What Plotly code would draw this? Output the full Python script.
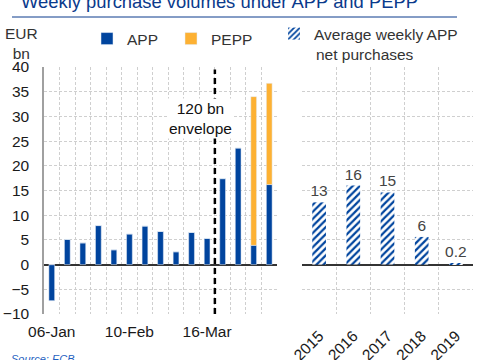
import numpy as np
import plotly.graph_objects as go

# ---------------- data ----------------
weeks = ["06-Jan", "13-Jan", "20-Jan", "27-Jan", "03-Feb", "10-Feb", "17-Feb", "24-Feb",
         "02-Mar", "09-Mar", "16-Mar", "23-Mar", "30-Mar", "06-Apr", "13-Apr"]
app_weekly = [-7.3, 5.1, 4.4, 7.9, 3.0, 6.2, 7.8, 6.7, 2.6, 6.5, 5.3, 17.4, 23.6, 3.9, 16.2]
pepp_weekly = [0, 0, 0, 0, 0, 0, 0, 0, 0, 0, 0, 0, 0, 30.1, 20.5]
shown_week_labels = ["06-Jan", "10-Feb", "16-Mar"]
envelope_after = "16-Mar"

years = ["2015", "2016", "2017", "2018", "2019"]
avg_weekly_app = [12.6, 16.0, 14.6, 5.6, 0.2]
avg_labels = ["13", "16", "15", "6", "0.2"]

# ---------------- style ----------------
W, H = 482, 360
BLUE = "#00449E"
YELLOW = "#FDB133"
TITLE_BLUE = "#0A3A8C"
TXT = "#333333"
GRID = "#CFCFCF"
FONT = "Arial, Liberation Sans, sans-serif"

def px_x(p):
    return p / W

def px_y(p):
    return 1 - p / H

xdomL = [px_x(44), px_x(277)]
xdomR = [px_x(302), px_x(473)]
ydom = [px_y(314), px_y(67)]
yrange = [-10, 40]
zero_pos = ydom[0] + (0 - yrange[0]) / (yrange[1] - yrange[0]) * (ydom[1] - ydom[0])

fig = go.Figure()

fig.add_trace(go.Bar(x=weeks, y=app_weekly, name="APP", marker_color=BLUE,
                     width=0.37, xaxis="x", yaxis="y", legend="legend"))
fig.add_trace(go.Bar(x=weeks, y=pepp_weekly, name="PEPP", marker_color=YELLOW,
                     width=0.37, xaxis="x", yaxis="y", legend="legend2"))
fig.add_trace(go.Bar(x=years, y=avg_weekly_app, name="Average weekly APP",
                     width=0.4, xaxis="x2", yaxis="y2", legend="legend3",
                     text=avg_labels, textposition="outside", cliponaxis=False,
                     constraintext="none",
                     textfont=dict(size=15.5, color="#444444", family=FONT),
                     marker=dict(color="white", line=dict(width=0),
                                 pattern=dict(shape="/", fgcolor=BLUE, bgcolor="white",
                                              size=5, solidity=0.45, fillmode="replace"))))

grid_common = dict(showgrid=True, gridcolor=GRID, griddash="3px,2px", gridwidth=1)

fig.update_layout(
    width=W, height=H,
    margin=dict(l=0, r=0, t=0, b=0, autoexpand=False),
    paper_bgcolor="white", plot_bgcolor="rgba(0,0,0,0)",
    barmode="relative",
    font=dict(family=FONT, size=15.5, color=TXT),
    xaxis=dict(domain=xdomL, anchor="y", type="category", tickson="boundaries",
               tickvals=weeks,
               ticktext=[w if w in shown_week_labels else "" for w in weeks],
               ticks="", showline=False, zeroline=False, tickangle=0,
               ticklabelstandoff=6, tickfont=dict(size=15.5, color="#1a1a1a"),
               **grid_common),
    yaxis=dict(domain=ydom, anchor="x", range=yrange, dtick=5, showline=True,
               linecolor="#A0A0A0", linewidth=1.5, ticks="",
               zeroline=True, zerolinecolor="#333333", zerolinewidth=1.5,
               ticklabelstandoff=10, tickfont=dict(size=15.5, color="#1a1a1a"),
               **grid_common),
    xaxis2=dict(domain=xdomR, anchor="y2", type="category", tickson="boundaries",
                ticks="", showline=False, zeroline=False, tickangle=-45,
                ticklabelstandoff=9, tickfont=dict(size=15.5, color="#1a1a1a"),
                **grid_common),
    yaxis2=dict(domain=ydom, anchor="x2", range=yrange, dtick=5, showline=False,
                showticklabels=False, ticks="",
                zeroline=True, zerolinecolor="#333333", zerolinewidth=1.5,
                **grid_common),
    # tick marks crossing the zero line at category boundaries
    xaxis3=dict(overlaying="x", anchor="free", position=zero_pos + 4 / H, type="linear",
                range=[-0.5, len(weeks) - 0.5],
                tickvals=list(np.arange(len(weeks) + 1) - 0.5),
                ticks="outside", ticklen=8, tickwidth=1.5, tickcolor="#333333",
                showticklabels=False, showgrid=False, zeroline=False, showline=False),
    xaxis4=dict(overlaying="x2", anchor="free", position=zero_pos + 4 / H, type="linear",
                range=[-0.5, len(years) - 0.5],
                tickvals=list(np.arange(len(years) + 1) - 0.5),
                ticks="outside", ticklen=8, tickwidth=1.5, tickcolor="#333333",
                showticklabels=False, showgrid=False, zeroline=False, showline=False),
    legend=dict(x=px_x(87), y=px_y(22), xanchor="left", yanchor="top",
                bgcolor="rgba(0,0,0,0)", font=dict(size=15.5, color=TXT)),
    legend2=dict(x=px_x(171), y=px_y(22), xanchor="left", yanchor="top",
                 bgcolor="rgba(0,0,0,0)", font=dict(size=15.5, color=TXT)),
    legend3=dict(x=px_x(274), y=px_y(17), xanchor="left", yanchor="top", valign="top",
                 bgcolor="rgba(0,0,0,0)", font=dict(size=15.5, color=TXT)),
    showlegend=True,
)

env_x = weeks.index(envelope_after) + 0.5
fig.add_shape(type="line", xref="x", yref="y", x0=env_x, x1=env_x, y0=-10, y1=39.5,
              line=dict(color="black", width=2.5, dash="6px,4px"), layer="above")
fig.add_annotation(xref="x", yref="y", x=env_x - 0.9, y=29.6,
                   text="120 bn<br>envelope", showarrow=False, bgcolor="white",
                   font=dict(size=15.5, color="#111111"), align="center")

# second line of the hatched legend entry
fig.add_annotation(xref="paper", yref="paper", x=px_x(314), y=px_y(54),
                   xanchor="left", yanchor="middle", showarrow=False,
                   text="net purchases", font=dict(size=15.5, color=TXT))

# title and rule
fig.add_annotation(xref="paper", yref="paper", x=px_x(19), y=px_y(14),
                   xanchor="left", yanchor="bottom", showarrow=False,
                   text="Weekly purchase volumes under APP and PEPP",
                   font=dict(size=18.4, color=TITLE_BLUE))
fig.add_shape(type="line", xref="paper", yref="paper", x0=px_x(12), x1=px_x(457),
              y0=px_y(17), y1=px_y(17), line=dict(color=TITLE_BLUE, width=1))

# unit label
fig.add_annotation(xref="paper", yref="paper", x=px_x(21), y=px_y(43),
                   xanchor="center", yanchor="middle", showarrow=False,
                   text="EUR<br>bn", font=dict(size=15.5, color=TXT), align="center")

# source
fig.add_annotation(xref="paper", yref="paper", x=px_x(9), y=px_y(351),
                   xanchor="left", yanchor="top", showarrow=False,
                   text="<i>Source: ECB.</i>", font=dict(size=11, color="#1F5FBF"))

fig.write_html("out.html", config={"displayModeBar": False},
               post_script="document.body.style.margin='0px';")
